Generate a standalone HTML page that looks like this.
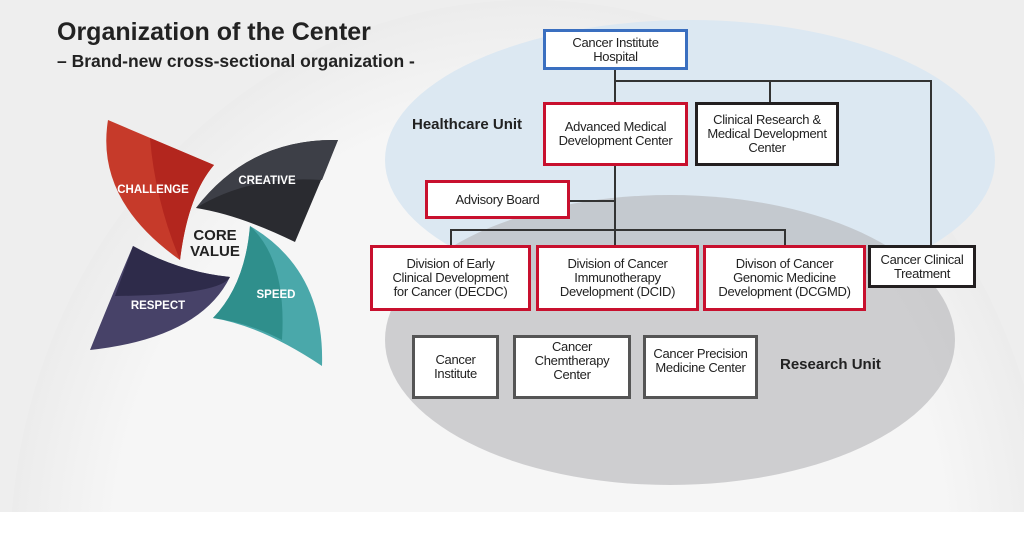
<!DOCTYPE html>
<html style="overflow:hidden"><head><meta charset="utf-8"><style>
body{margin:0;width:1024px;height:547px;overflow:hidden;background:#fff;font-family:"Liberation Sans",sans-serif;position:relative}
.b{position:absolute;background:#fff;box-sizing:border-box;display:flex;align-items:center;justify-content:center;text-align:center;font-size:13px;line-height:14px;color:#222;letter-spacing:-0.3px}
.r{border:3px solid #c8102e}.k{border:3px solid #231f20}.g{border:3px solid #555}.bl{border:3px solid #3a6fc0}
.l{position:absolute;background:#333}
</style></head><body>
<svg width="1024" height="547" style="position:absolute;left:0;top:0">
<defs><radialGradient id="gl" cx="0.5" cy="0.5" r="0.5"><stop offset="0.8" stop-color="#f6f6f6"/><stop offset="1" stop-color="#ececec"/></radialGradient></defs>
<rect x="0" y="0" width="1024" height="512" fill="#eeeeee"/>
<ellipse cx="530" cy="560" rx="520" ry="560" fill="url(#gl)"/>
<rect x="0" y="512" width="1024" height="35" fill="#fff"/>
<ellipse cx="690" cy="160" rx="305" ry="140" fill="#dce8f2"/>
<ellipse cx="670" cy="340" rx="285" ry="145" fill="#b4b4b8" opacity="0.6"/>
<path d="M108,120 L214,165 Q188,195 180,260 Q95,200 108,120Z" fill="#c63a2a"/>
<path d="M150,138 L214,165 Q188,195 180,260 Q155,200 150,138Z" fill="#b3261e"/>
<path d="M196,208 Q250,138 338,140 L295,242 Q240,215 196,208Z" fill="#2a2b30"/>
<path d="M196,208 Q250,138 338,140 L322,180 Q250,175 196,208Z" fill="#3d3f47"/>
<path d="M250,226 Q325,270 322,366 Q262,326 213,318 Q245,285 250,226Z" fill="#4aa8aa"/>
<path d="M250,226 Q287,260 282,340 Q250,323 213,318 Q245,285 250,226Z" fill="#2f8f8c"/>
<path d="M133,246 Q180,272 230,277 Q200,338 90,350 Q110,300 133,246Z" fill="#474268"/>
<path d="M133,246 Q180,272 230,277 Q220,295 115,296 Z" fill="#2e2b4a"/>
<g font-family="Liberation Sans,sans-serif" font-weight="bold" fill="#fff" font-size="11.5">
<text x="153" y="193" text-anchor="middle">CHALLENGE</text>
<text x="267" y="184" text-anchor="middle">CREATIVE</text>
<text x="276" y="298" text-anchor="middle">SPEED</text>
<text x="158" y="309" text-anchor="middle">RESPECT</text>
</g>
<text x="215" y="240" text-anchor="middle" font-family="Liberation Sans,sans-serif" font-weight="bold" font-size="15" fill="#222">CORE</text>
<text x="215" y="256" text-anchor="middle" font-family="Liberation Sans,sans-serif" font-weight="bold" font-size="15" fill="#222">VALUE</text>
</svg>
<div style="position:absolute;left:57px;top:18px;font-size:25px;font-weight:bold;color:#222">Organization of the Center</div>
<div style="position:absolute;left:57px;top:51px;font-size:17.5px;font-weight:bold;color:#222">– Brand-new cross-sectional organization -</div>
<div style="position:absolute;left:412px;top:116px;font-size:15px;font-weight:bold;color:#222">Healthcare Unit</div>
<div style="position:absolute;left:780px;top:356px;font-size:15px;font-weight:bold;color:#222">Research Unit</div>
<div class="l" style="left:614px;top:69px;width:2px;height:33px"></div>
<div class="l" style="left:614px;top:80px;width:318px;height:2px"></div>
<div class="l" style="left:769px;top:80px;width:2px;height:22px"></div>
<div class="l" style="left:930px;top:80px;width:2px;height:165px"></div>
<div class="l" style="left:614px;top:165px;width:2px;height:80px"></div>
<div class="l" style="left:570px;top:200px;width:45px;height:2px"></div>
<div class="l" style="left:450px;top:229px;width:336px;height:2px"></div>
<div class="l" style="left:450px;top:229px;width:2px;height:16px"></div>
<div class="l" style="left:784px;top:229px;width:2px;height:16px"></div>
<div class="b bl" style="left:543px;top:29px;width:145px;height:41px">Cancer Institute<br>Hospital</div>
<div class="b r" style="left:543px;top:102px;width:145px;height:64px">Advanced Medical<br>Development Center</div>
<div class="b k" style="left:695px;top:102px;width:144px;height:64px">Clinical Research &amp;<br>Medical Development<br>Center</div>
<div class="b r" style="left:425px;top:180px;width:145px;height:39px">Advisory Board</div>
<div class="b r" style="left:370px;top:245px;width:161px;height:66px">Division of Early<br>Clinical Development<br>for Cancer (DECDC)</div>
<div class="b r" style="left:536px;top:245px;width:163px;height:66px">Division of Cancer<br>Immunotherapy<br>Development (DCID)</div>
<div class="b r" style="left:703px;top:245px;width:163px;height:66px">Divison of Cancer<br>Genomic Medicine<br>Development (DCGMD)</div>
<div class="b k" style="left:868px;top:245px;width:108px;height:43px">Cancer Clinical<br>Treatment</div>
<div class="b g" style="left:412px;top:335px;width:87px;height:64px">Cancer<br>Institute</div>
<div class="b g" style="left:513px;top:335px;width:118px;height:64px;padding-bottom:12px">Cancer<br>Chemtherapy<br>Center</div>
<div class="b g" style="left:643px;top:335px;width:115px;height:64px;padding-bottom:12px">Cancer Precision<br>Medicine Center</div>
</body></html>
